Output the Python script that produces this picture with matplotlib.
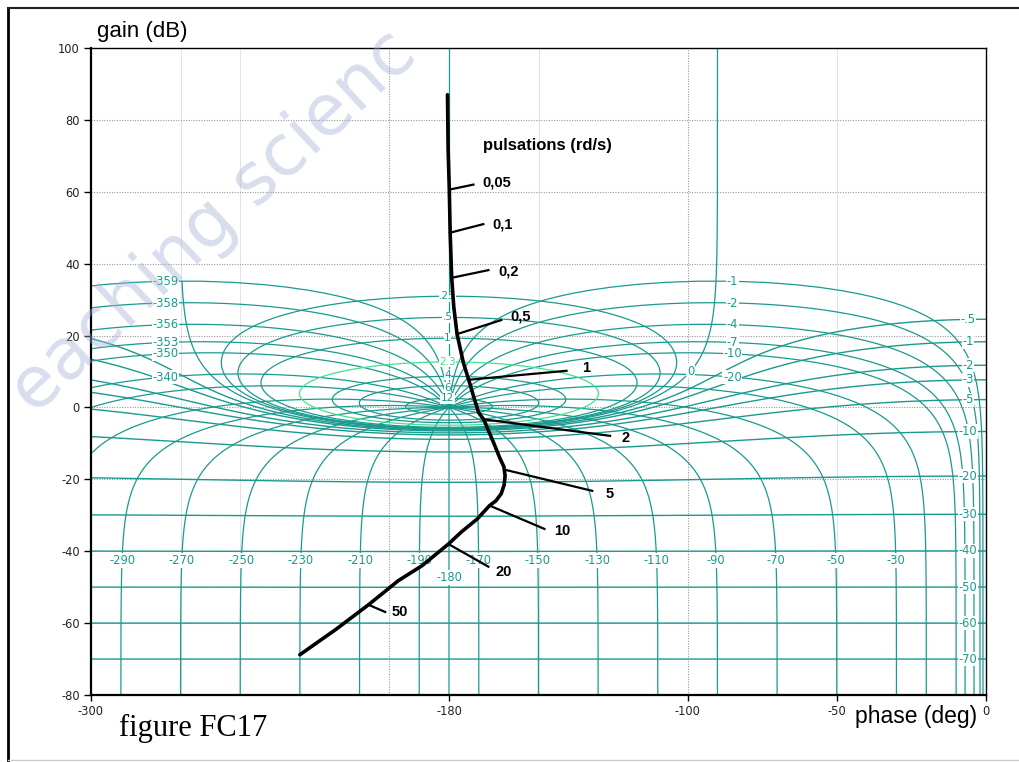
import numpy as np
import matplotlib
matplotlib.use("Agg")
import matplotlib.pyplot as plt
from matplotlib.lines import Line2D

# ---------------------------------------------------------------------------
# Open-loop locus (phase in degrees, gain in dB)
locus_phase = [-180.5, -180.3, -179.9, -179.6, -179.1, -178.4, -177.3, -175.2,
               -173.4, -171.8, -170.1, -168.4, -165.1, -163.0, -161.6, -161.2,
               -161.5, -162.5, -164.3, -166.4, -170.5, -175.8, -180.2, -189.0,
               -197.0, -207.0, -218.0, -230.0]
locus_gain = [87.0, 72.0, 60.6, 48.3, 36.1, 28.0, 20.4, 12.5,
              7.7, 3.2, -1.4, -3.3, -9.7, -14.0, -16.5, -19.0,
              -21.5, -24.0, -26.0, -27.3, -31.0, -34.6, -38.0, -44.0,
              -48.2, -54.9, -61.8, -68.8]

# Pulsation markers on the locus
freq_labels = ["0,05", "0,1", "0,2", "0,5", "1", "2", "5", "10", "20", "50"]
freq_phase = [-179.9, -179.7, -178.9, -177.3, -173.4, -168.4, -160.9, -166.4, -180.2, -207.0]
freq_gain = [60.6, 48.6, 36.1, 20.4, 7.7, -3.3, -17.4, -27.3, -38.0, -54.9]

# Nichols grid levels
m_levels_pos = [0.25, 0.5, 1, 2.3, 4, 6, 12]
m_labels_pos = [".25", ".5", "1", "2.3", "4", "6", "12"]
m_levels_neg = [-0.5, -1, -2, -3, -5, -10, -20, -30, -40, -50, -60, -70]
m_labels_neg = ["-.5", "-1", "-2", "-3", "-5", "-10", "-20", "-30", "-40", "-50", "-60", "-70"]
n_levels = [-1, -2, -4, -7, -10, -20, -30, -50, -70, -90, -110, -130, -150, -170,
            -180, -190, -210, -230, -250, -270, -290, -310, -330, -340, -350,
            -353, -356, -358, -359]
n_right = [-1, -2, -4, -7, -10, -20]
n_left = [-359, -358, -356, -353, -350, -340]
n_bottom = [-290, -270, -250, -230, -210, -190, -170, -150, -130, -110, -90, -70, -50, -30]

x_ticks = [-300, -180, -100, -50, 0]
y_ticks = [100, 80, 60, 40, 20, 0, -20, -40, -60, -80]

# ---------------------------------------------------------------------------
TEAL = "#1a9a8e"
LIGHT_GREEN = "#43e08e"
W, H = 1019, 762

fig = plt.figure(figsize=(W / 100, H / 100), dpi=100)
fig.patch.set_facecolor("white")
ax = fig.add_axes([91 / W, 1 - 695 / H, (986 - 91) / W, (695 - 48) / H])
ax.set_xlim(-300, 0)
ax.set_ylim(-80, 100)


def m_contour(m_db):
    m = 10 ** (m_db / 20)
    if m_db == 0:
        edge = np.geomspace(1e-5, 5.0, 1500)
        psi_deg = -np.concatenate([edge, np.linspace(5.0, 355.0, 4000), 360 - edge[::-1]])
    else:
        psi_deg = np.linspace(0, -360, 6001)
    T = m * np.exp(1j * np.radians(psi_deg))
    G = T / (1 - T)
    ph = np.degrees(np.unwrap(np.angle(G)))
    if m > 1:
        ph -= 360 * np.round((ph.mean() + 180) / 360)
    elif m < 1:
        ph -= 360 * np.round(ph[0] / 360)
    return ph, 20 * np.log10(np.abs(G))


def n_contour(phi):
    m = np.logspace(-4.6, 4.5, 6000)
    T = m * np.exp(1j * np.radians(phi))
    G = T / (1 - T)
    ph = np.degrees(np.unwrap(np.angle(G)))
    ph += 360 * np.round((phi - ph[0]) / 360)
    return ph, 20 * np.log10(np.abs(G))


def gain_at_phase(ph, db, target):
    return db[np.argmin(np.abs(ph - target))]


lab_kw = dict(fontsize=8.3, color=TEAL, ha="center", va="center", zorder=4,
              bbox=dict(boxstyle="square,pad=0.05", fc="white", ec="none"))

# light background grid
for xv in [-270, -250, -150, -50]:
    ax.axvline(xv, color="#dfe4ea", lw=0.8, zorder=0)
for yv in range(-60, 100, 20):
    ax.axhline(yv, color="#9a9a9a", lw=0.8, ls=(0, (1, 1.3)), zorder=0.5)
for xv in [-200, -100]:
    ax.axvline(xv, color="#9a9a9a", lw=0.8, ls=(0, (1, 1.3)), zorder=0.5)

# closed-loop phase contours
for phi in n_levels:
    ph, db = n_contour(phi)
    ax.plot(ph, db, color=TEAL, lw=0.9, zorder=2)
# 0 / -360 branch above the critical point
ax.plot([-180, -180], [0, 100], color=TEAL, lw=0.9, zorder=2)

# closed-loop magnitude contours (labels on the -180 axis, small nudges
# keep the tightly packed inner ones apart)
pos_nudge = {4: 0.5, 6: -0.5}
for lev, lab in zip(m_levels_pos, m_labels_pos):
    ph, db = m_contour(lev)
    col = LIGHT_GREEN if lev == 2.3 else TEAL
    ax.plot(ph, db, color=col, lw=0.9, zorder=2.2)
    kw = dict(lab_kw)
    kw["color"] = col
    kw["fontsize"] = 7.5
    ax.text(-180.5, db[0] + pos_nudge.get(lev, 0.0), lab, **kw)

ph, db = m_contour(0)
keep = ~((ph < -180) & (db > 35))
ax.plot(np.where(keep, ph, np.nan), db, color=TEAL, lw=0.9, zorder=2)
ax.text(-99, gain_at_phase(ph, db, -99), "0", **lab_kw)

for lev, lab in zip(m_levels_neg, m_labels_neg):
    ph, db = m_contour(lev)
    ax.plot(ph, db, color=TEAL, lw=1.0, zorder=2)
    ax.text(-6, gain_at_phase(ph, db, -6), lab, **lab_kw)

for phi in n_right:
    ph, db = n_contour(phi)
    ax.text(-85, gain_at_phase(ph, db, -85), str(phi), **lab_kw)
for phi in n_left:
    ph, db = n_contour(phi)
    ax.text(-275, gain_at_phase(ph, db, -275), str(phi), **lab_kw)
for phi in n_bottom:
    ph, db = n_contour(phi)
    low = db < -20
    ax.text(np.interp(-42.6, db[low], ph[low]), -42.6, str(phi), **lab_kw)
ax.text(-180, -47.3, "-180", **lab_kw)

# open-loop locus
ax.plot(locus_phase, locus_gain, color="black", lw=2.6, zorder=6,
        solid_capstyle="round", solid_joinstyle="round")

# pulsation markers: leader offset (deg, dB) and label offset
leader = [(8.1, 1.4), (11.2, 2.4), (12.1, 2.1), (14.8, 3.9), (32.8, 2.5),
          (42.4, -4.6), (28.9, -5.8), (18.4, -6.5), (13.4, -6.3), (5.6, -2.0)]
label_gap = [3.0, 3.2, 3.3, 3.1, 5.2, 3.8, 4.4, 3.2, 2.5, 2.0]
label_dy = [0.6, 0.0, -0.3, 1.1, 0.9, -0.7, -0.9, -0.5, -1.5, 0.1]
for lab, p, g, (dp, dg), gap, dy in zip(freq_labels, freq_phase, freq_gain,
                                         leader, label_gap, label_dy):
    ax.plot([p, p + dp], [g, g + dg], color="black", lw=1.6, zorder=6)
    ax.text(p + dp + gap, g + dg + dy, lab, fontsize=10.5, fontweight="bold",
            family="Liberation Sans", ha="left", va="center", zorder=7)

ax.text(-168.5, 73.0, "pulsations (rd/s)", fontsize=12, fontweight="bold",
        family="Liberation Sans", ha="left", va="center", zorder=7)

# axes styling
ax.set_xticks(x_ticks)
ax.set_yticks(y_ticks)
ax.set_xticklabels([str(v) for v in x_ticks])
ax.set_yticklabels([str(v) for v in y_ticks])
ax.tick_params(axis="y", direction="out", length=5, width=1, labelsize=8.3,
               labelcolor="#222222", pad=3)
ax.tick_params(axis="x", direction="out", length=4, width=1, labelsize=8.3,
               labelcolor="#222222", pad=3)
for s in ax.spines.values():
    s.set_color("black")
    s.set_linewidth(1.0)
ax.spines["left"].set_linewidth(1.6)
ax.spines["bottom"].set_linewidth(1.6)

# titles
fig.text(97 / W, 1 - 32 / H, "gain (dB)", fontsize=16, family="Liberation Sans",
         ha="left", va="center")
fig.text(977 / W, 1 - 716 / H, "phase (deg)", fontsize=16.5, family="Liberation Sans",
         ha="right", va="center")
fig.text(119 / W, 1 - 728 / H, "figure FC17", fontsize=22, family="Liberation Serif",
         ha="left", va="center")

# page frame
fig.add_artist(Line2D([8 / W, 8 / W], [0, 1 - 8 / H], color="black", lw=2.0,
                      transform=fig.transFigure))
fig.add_artist(Line2D([8 / W, 1], [1 - 8 / H, 1 - 8 / H], color="#222222", lw=1.5,
                      transform=fig.transFigure))
fig.add_artist(Line2D([8 / W, 1], [1 - 760 / H, 1 - 760 / H], color="#cccccc", lw=1.0,
                      transform=fig.transFigure))

# watermark
fig.text(214 / W, 1 - 222 / H, "eaching scienc", rotation=43, fontsize=51,
         color="#a3b1d5", alpha=0.42, ha="center", va="center", zorder=10)

fig.savefig("out.png", dpi=100, facecolor="white")
